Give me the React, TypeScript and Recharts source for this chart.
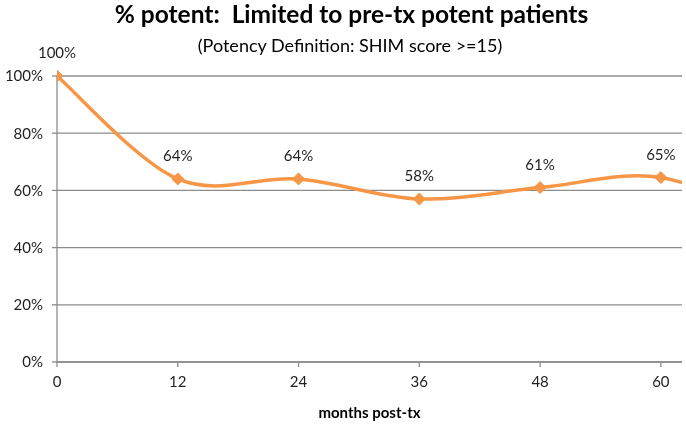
import React from "react";
import { LineChart, Line, XAxis, YAxis, CartesianGrid, LabelList } from "recharts";

// months after treatment; 72 sits past the visible edge so the curve runs off the right side
const months = [0, 12, 24, 36, 48, 60, 72];
const potentPct = [100, 64, 64, 57, 61, 64.5, 48];
const pointLabels = ["100%", "64%", "64%", "58%", "61%", "65%", ""];
const xTicks = [0, 12, 24, 36, 48, 60];
const yTicks = [0, 20, 40, 60, 80, 100];

const chartData = months.map((m, i) => ({ month: m, pct: potentPct[i], label: pointLabels[i] }));

const FONT = "Lato, 'Open Sans', sans-serif";
const TEXT = "#1f1f1f";
const GRID = "#8c8c8c";
const ORANGE = "#F79646";

// Excel-style smoothing: cubic bezier with control points at 1/6 of the neighbour chord
function excelSmooth(context: any) {
  let pts: number[][] = [];
  return {
    areaStart() {},
    areaEnd() {},
    lineStart() {
      pts = [];
    },
    point(x: number, y: number) {
      pts.push([+x, +y]);
    },
    lineEnd() {
      if (!pts.length) return;
      context.moveTo(pts[0][0], pts[0][1]);
      for (let i = 0; i < pts.length - 1; i++) {
        const p0 = pts[i - 1] || pts[i];
        const p1 = pts[i];
        const p2 = pts[i + 1];
        const p3 = pts[i + 2] || pts[i + 1];
        context.bezierCurveTo(
          p1[0] + (p2[0] - p0[0]) / 6,
          p1[1] + (p2[1] - p0[1]) / 6,
          p2[0] - (p3[0] - p1[0]) / 6,
          p2[1] - (p3[1] - p1[1]) / 6,
          p2[0],
          p2[1]
        );
      }
    },
  };
}

function Diamond(props: any) {
  const { cx, cy, payload } = props;
  if (cx == null || cy == null || !payload?.label) return null;
  const r = 6;
  return (
    <polygon
      points={`${cx},${cy - r} ${cx + r},${cy} ${cx},${cy + r} ${cx - r},${cy}`}
      fill={ORANGE}
      stroke={ORANGE}
      strokeWidth={1}
    />
  );
}

function PointLabel(props: any) {
  const { x, y, index } = props;
  const text = pointLabels[index];
  if (!text) return null;
  return (
    <text x={x} y={y - 18} textAnchor="middle" fontFamily={FONT} fontSize={15} fill={TEXT}>
      {text}
    </text>
  );
}

export default function App() {
  return (
    <div style={{ position: "fixed", left: 0, top: 0, width: 686, height: 424, background: "#fff" }}>
      <div
        style={{
          position: "absolute",
          left: 0,
          width: 703,
          top: -1,
          textAlign: "center",
          fontFamily: FONT,
          fontWeight: 700,
          fontSize: 24.5,
          color: "#000",
          lineHeight: "30px",
        }}
      >
        % potent:&nbsp; Limited to pre-tx potent patients
      </div>
      <div
        style={{
          position: "absolute",
          left: 0,
          width: 700,
          top: 34,
          textAlign: "center",
          fontFamily: FONT,
          fontSize: 18,
          color: "#000",
          lineHeight: "22px",
        }}
      >
        (Potency Definition: SHIM score &gt;=15)
      </div>
      <LineChart
        width={686}
        height={424}
        data={chartData}
        margin={{ top: 76, right: 4, bottom: 32, left: 0 }}
      >
        <CartesianGrid vertical={false} stroke={GRID} strokeWidth={1.3} />
        <XAxis
          dataKey="month"
          type="number"
          domain={[0, 62.1]}
          allowDataOverflow
          ticks={xTicks}
          height={30}
          tickSize={5}
          tickMargin={9}
          stroke={GRID}
          strokeWidth={1.3}
          tick={{ fontFamily: FONT, fontSize: 15, fill: TEXT }}
          interval={0}
        />
        <YAxis
          domain={[0, 100]}
          ticks={yTicks}
          width={57}
          tickSize={5}
          tickMargin={9}
          stroke={GRID}
          strokeWidth={1.3}
          tickFormatter={(v: number) => `${v}%`}
          tick={{ fontFamily: FONT, fontSize: 15, fill: TEXT }}
          interval={0}
        />
        <Line
          dataKey="pct"
          type={excelSmooth as any}
          stroke={ORANGE}
          strokeWidth={3.5}
          dot={<Diamond />}
          activeDot={false}
          isAnimationActive={false}
        >
          <LabelList dataKey="label" content={<PointLabel />} />
        </Line>
      </LineChart>
      <div
        style={{
          position: "absolute",
          left: 57,
          width: 625,
          top: 403,
          textAlign: "center",
          fontFamily: FONT,
          fontWeight: 700,
          fontSize: 15,
          color: "#000",
          lineHeight: "18px",
        }}
      >
        months post-tx
      </div>
    </div>
  );
}
